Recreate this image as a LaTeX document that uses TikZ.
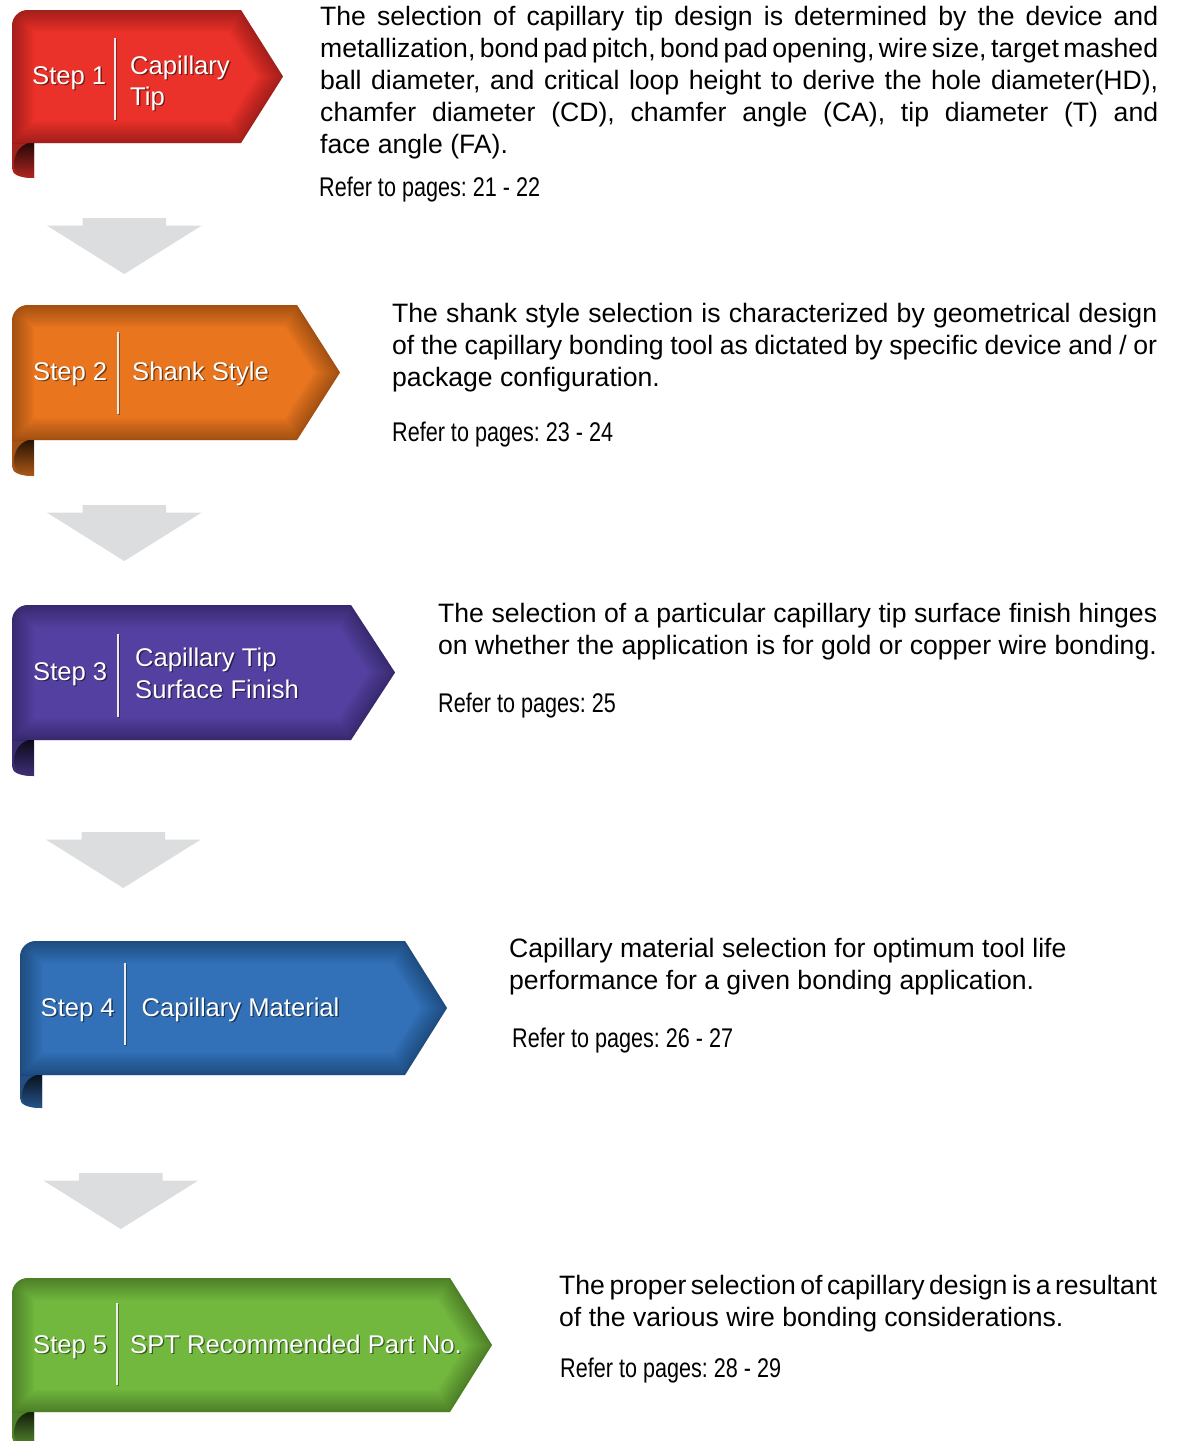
\documentclass[tikz,border=0pt]{standalone}
\usepackage{fontspec}
\setmainfont{Liberation Sans}
\newfontfamily\narrowfont[FakeStretch=0.8]{Liberation Sans}
\usetikzlibrary{calc}
\frenchspacing

\definecolor{cred}{RGB}{235,50,42}
\definecolor{corange}{RGB}{233,118,30}
\definecolor{cpurple}{RGB}{84,64,160}
\definecolor{cblue}{RGB}{50,112,184}
\definecolor{cgreen}{RGB}{114,184,62}
\definecolor{arrowgray}{RGB}{220,221,222}

\tikzset{
  bodytext/.style={anchor=base west, inner sep=0pt, font=\fontsize{26.6}{32}\selectfont, text=black},
  refertext/.style={anchor=base west, inner sep=0pt, font=\narrowfont\fontsize{27}{32}\selectfont, text=black},
  bantext/.style={anchor=base west, inner sep=0pt, font=\fontsize{25.6}{30}\selectfont, text=white},
  banshadow/.style={anchor=base west, inner sep=0pt, font=\fontsize{25.6}{30}\selectfont, text=black, opacity=0.5},
  flowarrow/.style={fill=arrowgray, draw=none},
  divider/.style={draw=white!92!black, line width=2pt},
  dividershadow/.style={draw=black, opacity=0.35, line width=2pt},
}

% justified line of given width
\newcommand\jline[2]{\hbox to #1{\spaceskip=0.278em plus 1fil minus 0.2em\relax #2}}

% white text with a drop shadow
\newcommand\shtext[3]{%
  \node[banshadow] at ($(#2)+(1.3,1.3)$) {#3};
  \node[bantext] (#1) at (#2) {#3};
}

% banner: #1 name, #2 colour, #3 left, #4 top, #5 body right, #6 point x, #7 bottom, #8 curl bottom, #9 curl width
\newcommand\banner[9]{%
  \pgfmathsetmacro\bmid{(#4+#7)/2}
  \coordinate (#1) at (#3,\bmid);
  % curl underneath
  \fill[#2!70!black] (#3,#7-1) -- (#3,#8-10) .. controls (#3,#8-4) and (#3+6,#8) .. (#3+#9,#8) -- (#3+#9,#7-1) -- cycle;
  \shade[top color=black!85!#2, bottom color=#2!75!black]
     (#3+#9,#7-1) .. controls (#3+10,#7) and (#3+2.5,#7+8) .. (#3+2,#7+21)
     .. controls (#3+3,#8-3) and (#3+9,#8) .. (#3+#9,#8) -- cycle;
  \def\bodypath{(#3,#7) -- (#3,#4+16) .. controls (#3,#4+7) and (#3+7,#4) .. (#3+16,#4) -- (#5,#4) -- (#6,\bmid) -- (#5,#7) -- cycle}
  \fill[#2] \bodypath;
  \begin{scope}
    \clip \bodypath;
    \foreach \w in {44,40,36,32,28,24,20,16,12,8,5,2}
      \draw[black, line width=\w pt, opacity=0.028, line join=round] \bodypath;
  \end{scope}
}

% grey down arrow: #1 name, #2 centre x, #3 top y
\newcommand\flowdown[3]{%
  \coordinate (#1) at (#2,#3);
  \fill[flowarrow] ($(#1)+(-41.7,0)$) -- ($(#1)+(41.7,0)$) -- ($(#1)+(41.7,7.5)$) -- ($(#1)+(77.5,7.5)$)
     -- ($(#1)+(0,56)$) -- ($(#1)+(-77.5,7.5)$) -- ($(#1)+(-41.7,7.5)$) -- cycle;
}

\begin{document}
\begin{tikzpicture}[x=1pt,y=-1pt]
\fill[white] (0,0) rectangle (1179,1441);
\useasboundingbox (0,0) rectangle (1179,1441);

% ---------- Step 1 ----------
\banner{ban1}{cred}{12}{10}{241}{283}{143}{178}{22}
\draw[dividershadow] (116.3,39.3) -- (116.3,121.3);
\draw[divider] (115,38) -- (115,120);
\shtext{s1}{32,84.5}{Step 1}
\shtext{s1a}{130,74.5}{Capillary}
\shtext{s1b}{130,105.5}{Tip}

\node[bodytext] (t1a) at (320,25) {\jline{838pt}{The selection of capillary tip design is determined by the device and}};
\node[bodytext] (t1b) at (320,57) {\jline{838pt}{metallization, bond pad pitch, bond pad opening, wire size, target mashed}};
\node[bodytext] (t1c) at (320,89) {\jline{838pt}{ball diameter, and critical loop height to derive the hole diameter(HD),}};
\node[bodytext] (t1d) at (320,121) {\jline{838pt}{chamfer diameter (CD), chamfer angle (CA), tip diameter (T) and}};
\node[bodytext] (t1e) at (320,153) {face angle (FA).};
\node[refertext] (r1) at (319,196.5) {Refer to pages: 21 - 22};

\flowdown{a1}{124.3}{218}

% ---------- Step 2 ----------
\banner{ban2}{corange}{12}{305}{297}{340}{440}{476}{22}
\draw[dividershadow] (119.3,333.3) -- (119.3,415.3);
\draw[divider] (118,332) -- (118,414);
\shtext{s2}{33,380.5}{Step 2}
\shtext{s2a}{132,380.5}{Shank Style}

\node[bodytext] (t2a) at (392,322.5) {\jline{765pt}{The shank style selection is characterized by geometrical design}};
\node[bodytext] (t2b) at (392,354.5) {\jline{765pt}{of the capillary bonding tool as dictated by specific device and / or}};
\node[bodytext] (t2c) at (392,386.5) {package configuration.};
\node[refertext] (r2) at (392,441) {Refer to pages: 23 - 24};

\flowdown{a2}{124.3}{505}

% ---------- Step 3 ----------
\banner{ban3}{cpurple}{12}{605}{351}{395}{740}{776}{22}
\draw[dividershadow] (119.3,635.3) -- (119.3,718.3);
\draw[divider] (118,634) -- (118,717);
\shtext{s3}{33,680.5}{Step 3}
\shtext{s3a}{135,666.5}{Capillary Tip}
\shtext{s3b}{135,698.5}{Surface Finish}

\node[bodytext] (t3a) at (438,622.5) {\jline{719pt}{The selection of a particular capillary tip surface finish hinges}};
\node[bodytext] (t3b) at (438,654.5) {on whether the application is for gold or copper wire bonding.};
\node[refertext] (r3) at (438,712) {Refer to pages: 25};

\flowdown{a3}{123.3}{832}

% ---------- Step 4 ----------
\banner{ban4}{cblue}{20}{941}{405}{447}{1075}{1108}{22}
\draw[dividershadow] (126.3,964.3) -- (126.3,1046.3);
\draw[divider] (125,963) -- (125,1045);
\shtext{s4}{40.5,1016}{Step 4}
\shtext{s4a}{141.5,1016}{Capillary Material}

\node[bodytext] (t4a) at (509,957.5) {Capillary material selection for optimum tool life};
\node[bodytext] (t4b) at (509,989.5) {performance for a given bonding application.};
\node[refertext] (r4) at (512,1047) {Refer to pages: 26 - 27};

\flowdown{a4}{120.8}{1173}

% ---------- Step 5 ----------
\banner{ban5}{cgreen}{12}{1278}{450}{492}{1412}{1447}{22}
\draw[dividershadow] (118.3,1304.3) -- (118.3,1386.3);
\draw[divider] (117,1303) -- (117,1385);
\shtext{s5}{33,1353}{Step 5}
\shtext{s5a}{130,1353}{SPT Recommended Part No.}

\node[bodytext] (t5a) at (559,1294.5) {\jline{598pt}{The proper selection of capillary design is a resultant}};
\node[bodytext] (t5b) at (559,1326.5) {of the various wire bonding considerations.};
\node[refertext] (r5) at (560,1377) {Refer to pages: 28 - 29};

\end{tikzpicture}
\end{document}
